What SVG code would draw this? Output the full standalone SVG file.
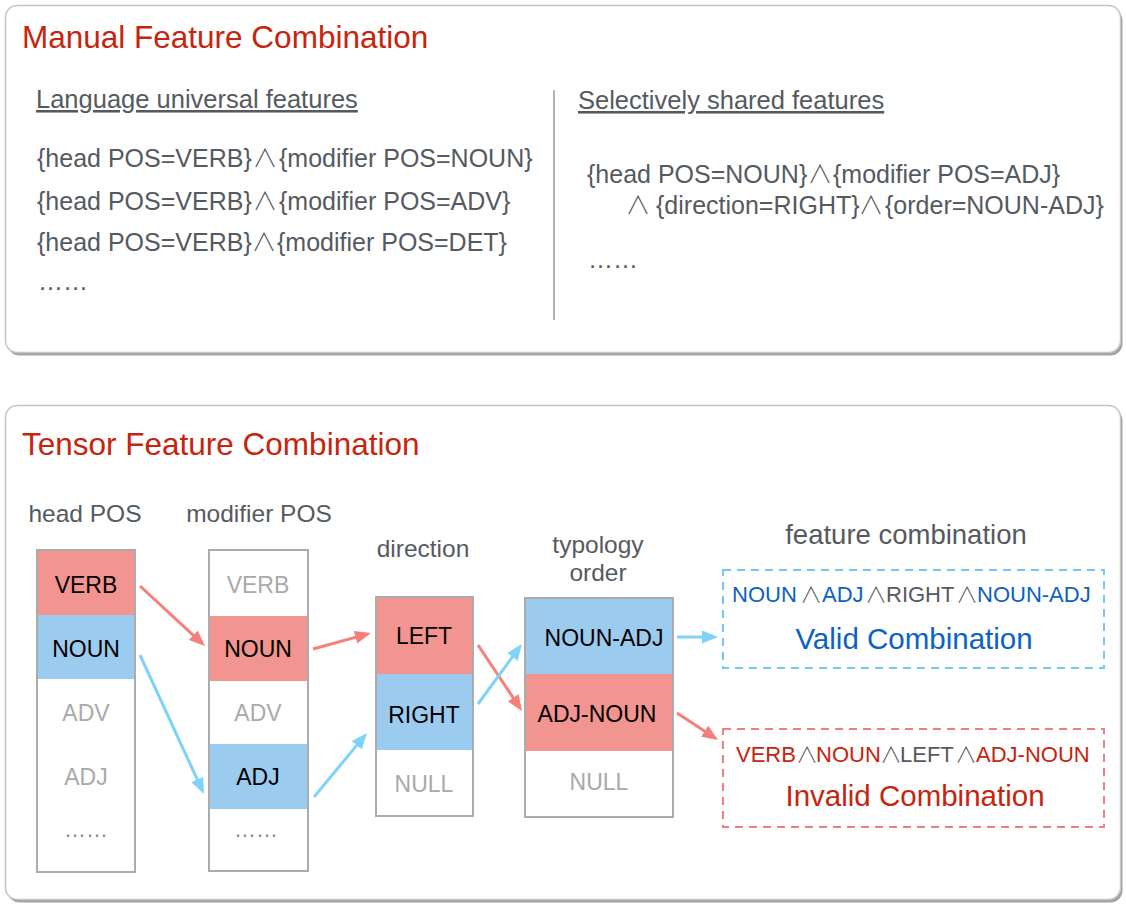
<svg xmlns="http://www.w3.org/2000/svg" width="1126" height="905" viewBox="0 0 1126 905">
  <style>
    text { font-family: "Liberation Sans", Arial, "DejaVu Sans", sans-serif; }
    .title { font-size: 31.5px; fill: #c7240e; }
    .head { font-size: 25.5px; fill: #555a60; text-decoration: underline; }
    .body { font-size: 25px; fill: #555a60; }
    .wedge { font-family: "Noto Sans CJK JP", "DejaVu Sans", sans-serif; font-weight: 300; text-anchor: middle; fill: #555a60; }
    .label { font-size: 24.5px; fill: #555a60; text-anchor: middle; }
    .cell { font-size: 23px; fill: #000; text-anchor: middle; }
    .dim { fill: #a9a9a9; }
    .dots { font-size: 22px; fill: #888; text-anchor: middle; }
    .col { fill: #fff; stroke: #ababab; stroke-width: 2; }
    .red { fill: #f2948f; }
    .blue { fill: #9ccbf0; }
    .combo { font-size: 22px; fill: #555a60; }
    .ok { fill: #0b62c4; }
    .bad { fill: #c7240e; }
    .verdict { font-size: 29.5px; text-anchor: middle; }
    .arrR { stroke: #f77f7a; stroke-width: 3; fill: none; }
    .arrB { stroke: #7dd3fa; stroke-width: 3; fill: none; }
  </style>
  <defs>
    <marker id="headR" markerUnits="userSpaceOnUse" markerWidth="17" markerHeight="14" refX="12" refY="6.5" orient="auto">
      <path d="M0,0 L16,6.5 L0,13 z" fill="#f77f7a"/>
    </marker>
    <marker id="headB" markerUnits="userSpaceOnUse" markerWidth="17" markerHeight="14" refX="12" refY="6.5" orient="auto">
      <path d="M0,0 L16,6.5 L0,13 z" fill="#7dd3fa"/>
    </marker>
  </defs>

  <!-- upper panel: hand-written feature templates -->
  <g id="manual-panel">
    <rect x="7.5" y="8.5" width="1115" height="347" rx="12" fill="#a3a3a3"/>
    <rect x="5.5" y="5.5" width="1115" height="347" rx="12" fill="#fff" stroke="#c4c4c4" stroke-width="1.5"/>
    <text class="title" x="22" y="48">Manual Feature Combination</text>
    <text class="head" x="36" y="108">Language universal features</text>
    <text class="body" y="167"><tspan x="37">{head POS=VERB}</tspan><tspan class="wedge" x="265">∧</tspan><tspan x="279">{modifier POS=NOUN}</tspan></text>
    <text class="body" y="210"><tspan x="37">{head POS=VERB}</tspan><tspan class="wedge" x="265">∧</tspan><tspan x="279">{modifier POS=ADV}</tspan></text>
    <text class="body" y="251"><tspan x="37">{head POS=VERB}</tspan><tspan class="wedge" x="264">∧</tspan><tspan x="277">{modifier POS=DET}</tspan></text>
    <text class="body" x="38" y="290">……</text>
    <line x1="554" y1="90" x2="554" y2="320" stroke="#9a9a9a" stroke-width="1.5"/>
    <text class="head" x="578" y="109">Selectively shared features</text>
    <text class="body" y="183"><tspan x="587">{head POS=NOUN}</tspan><tspan class="wedge" x="820">∧</tspan><tspan x="833">{modifier POS=ADJ}</tspan></text>
    <text class="body" y="214"><tspan class="wedge" x="638">∧</tspan><tspan x="656">{direction=RIGHT}</tspan><tspan class="wedge" x="871">∧</tspan><tspan x="885">{order=NOUN-ADJ}</tspan></text>
    <text class="body" x="588" y="268">……</text>
  </g>

  <!-- lower panel frame -->
  <g id="tensor-panel">
    <rect x="7.5" y="408.5" width="1115" height="494" rx="12" fill="#a3a3a3"/>
    <rect x="5.5" y="405.5" width="1115" height="494" rx="12" fill="#fff" stroke="#c4c4c4" stroke-width="1.5"/>
    <text class="title" x="22" y="455">Tensor Feature Combination</text>
  </g>

  <g id="head-pos">
    <text class="label" x="85" y="522">head POS</text>
    <rect class="col" x="37" y="550" width="98" height="322"/>
    <rect class="red" x="38" y="551" width="96" height="64"/>
    <rect class="blue" x="38" y="615" width="96" height="64"/>
    <text class="cell" x="86" y="593">VERB</text>
    <text class="cell" x="86" y="657">NOUN</text>
    <text class="cell dim" x="86" y="721">ADV</text>
    <text class="cell dim" x="86" y="785">ADJ</text>
    <text class="dots" x="86" y="837">……</text>
  </g>

  <g id="modifier-pos">
    <text class="label" x="259" y="522">modifier POS</text>
    <rect class="col" x="209" y="550" width="99" height="321"/>
    <rect class="red" x="210" y="616" width="97" height="65"/>
    <rect class="blue" x="210" y="744" width="97" height="65"/>
    <text class="cell dim" x="258" y="593">VERB</text>
    <text class="cell" x="258" y="657">NOUN</text>
    <text class="cell dim" x="258" y="721">ADV</text>
    <text class="cell" x="258" y="785">ADJ</text>
    <text class="dots" x="256" y="837">……</text>
  </g>

  <g id="direction">
    <text class="label" x="423" y="557">direction</text>
    <rect class="col" x="376" y="597" width="97" height="219"/>
    <rect class="red" x="377" y="598" width="95" height="76"/>
    <rect class="blue" x="377" y="674" width="95" height="76"/>
    <text class="cell" x="424" y="644">LEFT</text>
    <text class="cell" x="424" y="723">RIGHT</text>
    <text class="cell dim" x="424" y="792">NULL</text>
  </g>

  <g id="typology-order">
    <text class="label" x="598" y="553">typology</text>
    <text class="label" x="598" y="581">order</text>
    <rect class="col" x="525" y="598" width="148" height="219"/>
    <rect class="blue" x="526" y="599" width="146" height="75"/>
    <rect class="red" x="526" y="674" width="146" height="77"/>
    <text class="cell" x="604" y="646">NOUN-ADJ</text>
    <text class="cell" x="597" y="722">ADJ-NOUN</text>
    <text class="cell dim" x="599" y="790">NULL</text>
  </g>

  <g id="feature-combination">
    <text class="label" x="906" y="544" style="font-size:27.5px">feature combination</text>
  </g>

  <g id="valid-combination">
    <rect x="723" y="570" width="381" height="98" fill="none" stroke="#73c9f0" stroke-width="2" stroke-dasharray="8 6"/>
    <text class="combo" y="602"><tspan class="ok" x="732">NOUN</tspan><tspan class="wedge" x="811">∧</tspan><tspan class="ok" x="822">ADJ</tspan><tspan class="wedge" x="876">∧</tspan><tspan x="886">RIGHT</tspan><tspan class="wedge" x="967">∧</tspan><tspan class="ok" x="977">NOUN-ADJ</tspan></text>
    <text class="verdict ok" x="914" y="649">Valid Combination</text>
  </g>

  <g id="invalid-combination">
    <rect x="723" y="729" width="381" height="98" fill="none" stroke="#f08080" stroke-width="2" stroke-dasharray="8 6"/>
    <text class="combo" y="762"><tspan class="bad" x="736">VERB</tspan><tspan class="wedge" x="807">∧</tspan><tspan class="bad" x="816">NOUN</tspan><tspan class="wedge" x="891">∧</tspan><tspan x="900">LEFT</tspan><tspan class="wedge" x="966">∧</tspan><tspan class="bad" x="976">ADJ-NOUN</tspan></text>
    <text class="verdict bad" x="915" y="806">Invalid Combination</text>
  </g>

  <!-- connectors between the selected cells -->
  <g id="connectors">
    <line class="arrR" x1="140" y1="586" x2="202.1" y2="643.3" marker-end="url(#headR)"/>
    <line class="arrB" x1="140" y1="655" x2="202.3" y2="790.4" marker-end="url(#headB)"/>
    <line class="arrR" x1="313" y1="649" x2="367.1" y2="634.1" marker-end="url(#headR)"/>
    <line class="arrB" x1="314" y1="797" x2="364.4" y2="736.1" marker-end="url(#headB)"/>
    <line class="arrR" x1="478" y1="645" x2="519.8" y2="707.7" marker-end="url(#headR)"/>
    <line class="arrB" x1="478" y1="704" x2="519.6" y2="647.2" marker-end="url(#headB)"/>
    <line class="arrB" x1="677" y1="637" x2="714" y2="637" marker-end="url(#headB)"/>
    <line class="arrR" x1="677" y1="713" x2="714.7" y2="737.8" marker-end="url(#headR)"/>
  </g>
</svg>
